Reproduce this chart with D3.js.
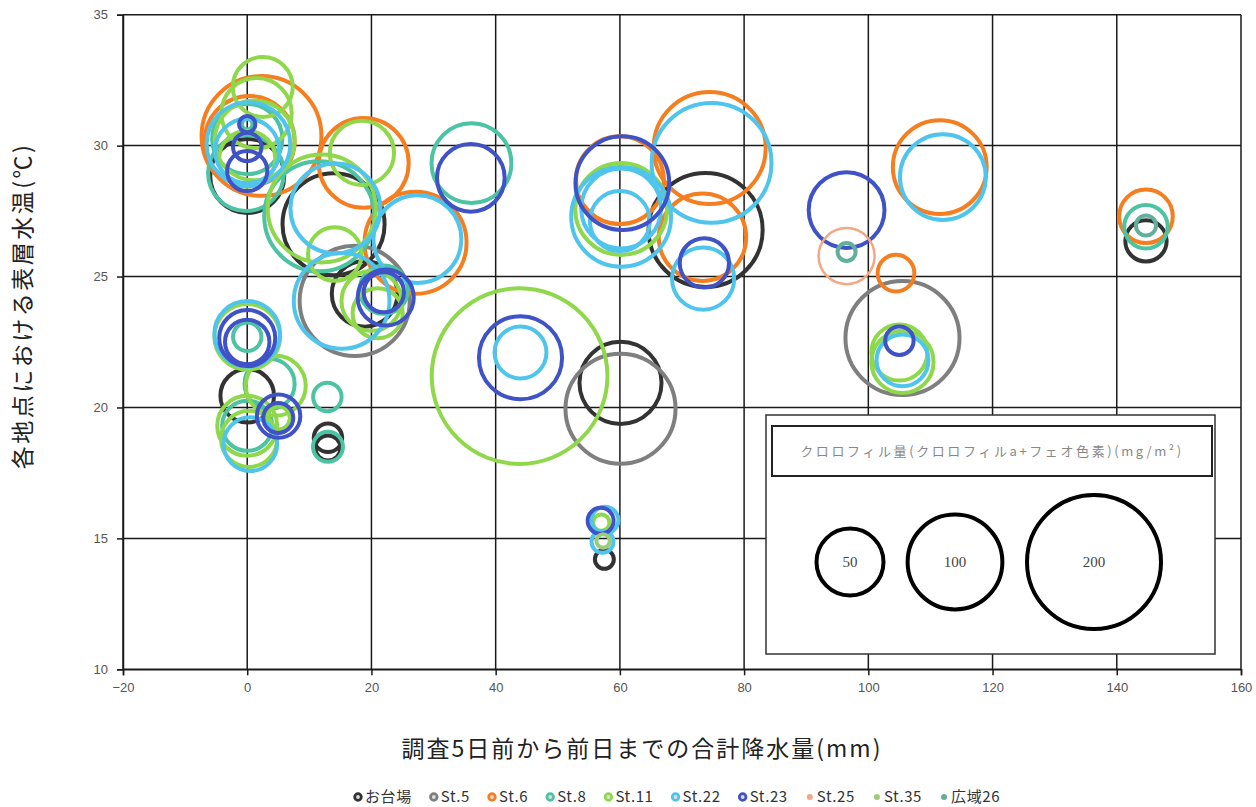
<!DOCTYPE html>
<html>
<head>
<meta charset="utf-8">
<script src="https://cdn.jsdelivr.net/npm/d3@7"></script>
<style>
  body { margin: 0; background: #fff; }
  svg { display: block; }
</style>
</head>
<body>
<div id="chart"></div>
<script>
// series and their colours
const seriesNames = ["お台場", "St.5", "St.6", "St.8", "St.11", "St.22", "St.23", "St.25", "St.35", "広域26"];
const seriesColors = ["#333333", "#7f7f7f", "#f47e20", "#4cc3a2", "#8fd84b", "#4fc4ec", "#3f52c6", "#f4a784", "#9ccb7c", "#62b09c"];

// points: [rain (mm), surface temp (°C), chlorophyll (mg/m2)]
const odaiba = [[0, 28.84, 61], [13.9, 27.0, 116], [18.9, 24.34, 48], [60.1, 20.94, 75], [73.8, 26.78, 145],
  [144.7, 26.36, 19], [57.5, 14.2, 4], [0, 20.45, 32], [13, 18.84, 9], [13, 18.45, 7]];
const st5 = [[17.3, 24.07, 135], [60.1, 19.95, 135], [105.5, 22.65, 145]];
const st6 = [[2.3, 30.37, 160], [0.4, 30.18, 90], [18.76, 29.34, 90], [27.1, 26.29, 116], [60, 28.68, 86],
  [74.45, 29.91, 140], [73.3, 26.5, 85], [104.45, 25.13, 15], [111.5, 29.18, 98], [144.7, 27.3, 32]];
const st8 = [[-0.2, 28.95, 64], [0, 30.25, 55], [0, 30.82, 1.2], [11.6, 27.3, 135], [36.1, 29.33, 71],
  [0, 22.7, 9], [0, 19.3, 28], [3.6, 20.9, 28], [12.9, 20.4, 9], [13, 18.5, 10], [144.7, 26.9, 21], [22, 24.5, 26]];
const st11 = [[2.5, 32.24, 40], [1.5, 31.24, 55], [1.2, 30.2, 71], [0, 29.5, 35], [18.47, 29.72, 46],
  [12, 27.6, 130], [14.1, 25.86, 32], [20, 24.07, 40], [21, 23.6, 28], [43.85, 21.2, 344], [60.2, 27.58, 94],
  [105.5, 21.74, 43], [105, 22.1, 35], [0, 22.7, 48], [0, 19.3, 40], [0.3, 18.8, 35], [4.6, 20.83, 40],
  [5, 19.6, 6], [57, 15.6, 3]];
const st22 = [[0.2, 30.06, 78], [0, 29.8, 46], [14.2, 27.6, 90], [27.4, 26.43, 86], [15.2, 24.07, 102],
  [44, 22.1, 30], [60.2, 27.28, 111], [60.2, 27.6, 71], [60, 27.12, 40], [74.76, 29.34, 160], [73.4, 24.92, 43],
  [112, 28.8, 82], [105.5, 21.8, 30], [0, 22.81, 48], [0.5, 18.6, 32], [57.2, 14.87, 5.4], [57.6, 15.7, 8]];
const st23 = [[0, 30.82, 3], [0, 29.95, 9], [0, 29.03, 18], [22.3, 24.2, 35], [22, 24.4, 18], [36, 28.77, 51],
  [44, 21.9, 77], [60.4, 28.57, 98], [73.6, 25.52, 27], [96.5, 27.54, 64], [105, 22.55, 9], [0, 22.65, 35],
  [0, 22.5, 22], [5.05, 19.67, 21], [5, 19.6, 10], [56.9, 15.67, 7.5]];
const st25 = [[96.5, 25.78, 35]];
const st35 = [[57.3, 14.9, 2]];
const kouiki26 = [[96.5, 25.94, 3.6], [144.7, 26.95, 4.5]];

const seriesData = [odaiba, st5, st6, st8, st11, st22, st23, st25, st35, kouiki26];

const xTicks = [-20, 0, 20, 40, 60, 80, 100, 120, 140, 160];
const yTicks = [10, 15, 20, 25, 30, 35];
const legendSizes = [50, 100, 200];

const legendTitle = "クロロフィル量(クロロフィルa+フェオ色素)(mg/m²)";
const xTitle = "調査5日前から前日までの合計降水量(mm)";
const yTitle = "各地点における表層水温(℃)";

const width = 1256, height = 807;
const jp = "'Noto Sans CJK JP', 'Noto Sans', sans-serif";

const x = d3.scaleLinear().domain([-20, 160]).range([123, 1241]);
const y = d3.scaleLinear().domain([10, 35]).range([669.3, 14.7]);
const r = d3.scaleSqrt().domain([0, 200]).range([0, 67]);

const svg = d3.select("#chart").append("svg").attr("width", width).attr("height", height);

// grid
svg.append("g").selectAll("line").data(xTicks).enter().append("line")
  .attr("x1", d => x(d)).attr("x2", d => x(d))
  .attr("y1", y(35)).attr("y2", y(10))
  .attr("stroke", "#1a1a1a").attr("stroke-width", 1.5);
svg.append("g").selectAll("line").data(yTicks).enter().append("line")
  .attr("x1", x(-20)).attr("x2", x(160))
  .attr("y1", d => y(d)).attr("y2", d => y(d))
  .attr("stroke", "#1a1a1a").attr("stroke-width", 1.5);

// axes
const xAxis = svg.append("g").attr("transform", `translate(0,${y(10)})`)
  .call(d3.axisBottom(x).tickValues(xTicks).tickSize(6).tickPadding(7));
const yAxis = svg.append("g").attr("transform", `translate(${x(-20)},0)`)
  .call(d3.axisLeft(y).tickValues(yTicks).tickSize(6).tickPadding(9));
[xAxis, yAxis].forEach(a => {
  a.select(".domain").attr("stroke", "#1a1a1a").attr("stroke-width", 1.5);
  a.selectAll(".tick line").attr("stroke", "#1a1a1a").attr("stroke-width", 1.5);
  a.selectAll(".tick text").attr("fill", "#555").style("font-family", "'Liberation Sans', Arial, sans-serif").style("font-size", "13px");
});

// bubbles
seriesData.forEach((pts, i) => {
  svg.append("g").attr("class", "series")
    .selectAll("circle").data(pts).enter().append("circle")
    .attr("cx", d => x(d[0]))
    .attr("cy", d => y(d[1]))
    .attr("r", d => r(d[2]))
    .attr("fill", "none")
    .attr("stroke", seriesColors[i])
    .attr("stroke-width", i === 7 ? 2.5 : 4);
});

// size legend box
const box = svg.append("g").attr("transform", "translate(766,415)");
box.append("rect").attr("width", 449).attr("height", 239)
  .attr("fill", "#fff").attr("stroke", "#333").attr("stroke-width", 1.5);
box.append("rect").attr("x", 6).attr("y", 11).attr("width", 440).attr("height", 50)
  .attr("fill", "#fff").attr("stroke", "#222").attr("stroke-width", 2);
box.append("text").attr("x", 226).attr("y", 41).attr("text-anchor", "middle")
  .style("font-family", jp).style("font-size", "13px").style("letter-spacing", "2.6px").attr("fill", "#888")
  .text(legendTitle);
const legX = [84, 189, 328];
legendSizes.forEach((v, i) => {
  box.append("circle").attr("cx", legX[i]).attr("cy", 147).attr("r", r(v))
    .attr("fill", "none").attr("stroke", "#000").attr("stroke-width", 4);
  box.append("text").attr("x", legX[i]).attr("y", 152).attr("text-anchor", "middle")
    .style("font-family", "'Liberation Serif', serif").style("font-size", "15px").attr("fill", "#444")
    .text(v);
});

// axis titles
svg.append("text").attr("x", 642).attr("y", 757).attr("text-anchor", "middle")
  .style("font-family", jp).style("font-size", "23px").style("letter-spacing", "2px").attr("fill", "#222")
  .text(xTitle);
svg.append("text").attr("transform", "translate(31,306) rotate(-90)").attr("text-anchor", "middle")
  .style("font-family", jp).style("font-size", "23px").style("letter-spacing", "2.5px").attr("fill", "#222")
  .text(yTitle);

// series legend at the bottom
const leg = svg.append("g").attr("transform", "translate(0,797)");
let cursor = 353;
seriesNames.forEach((name, i) => {
  const g = leg.append("g").attr("transform", `translate(${cursor},0)`);
  if (i < 7) {
    g.append("circle").attr("cx", 5).attr("cy", 0).attr("r", 3.3)
      .attr("fill", "#ddd").attr("stroke", seriesColors[i]).attr("stroke-width", 2.8);
  } else {
    g.append("circle").attr("cx", 5).attr("cy", 0).attr("r", 3).attr("fill", seriesColors[i]);
  }
  const t = g.append("text").attr("x", 12).attr("y", 5)
    .style("font-family", jp).style("font-size", "15px").style("letter-spacing", "0.6px").attr("fill", "#333")
    .text(name);
  cursor += 12 + t.node().getComputedTextLength() + 17;
});
</script>
</body>
</html>
